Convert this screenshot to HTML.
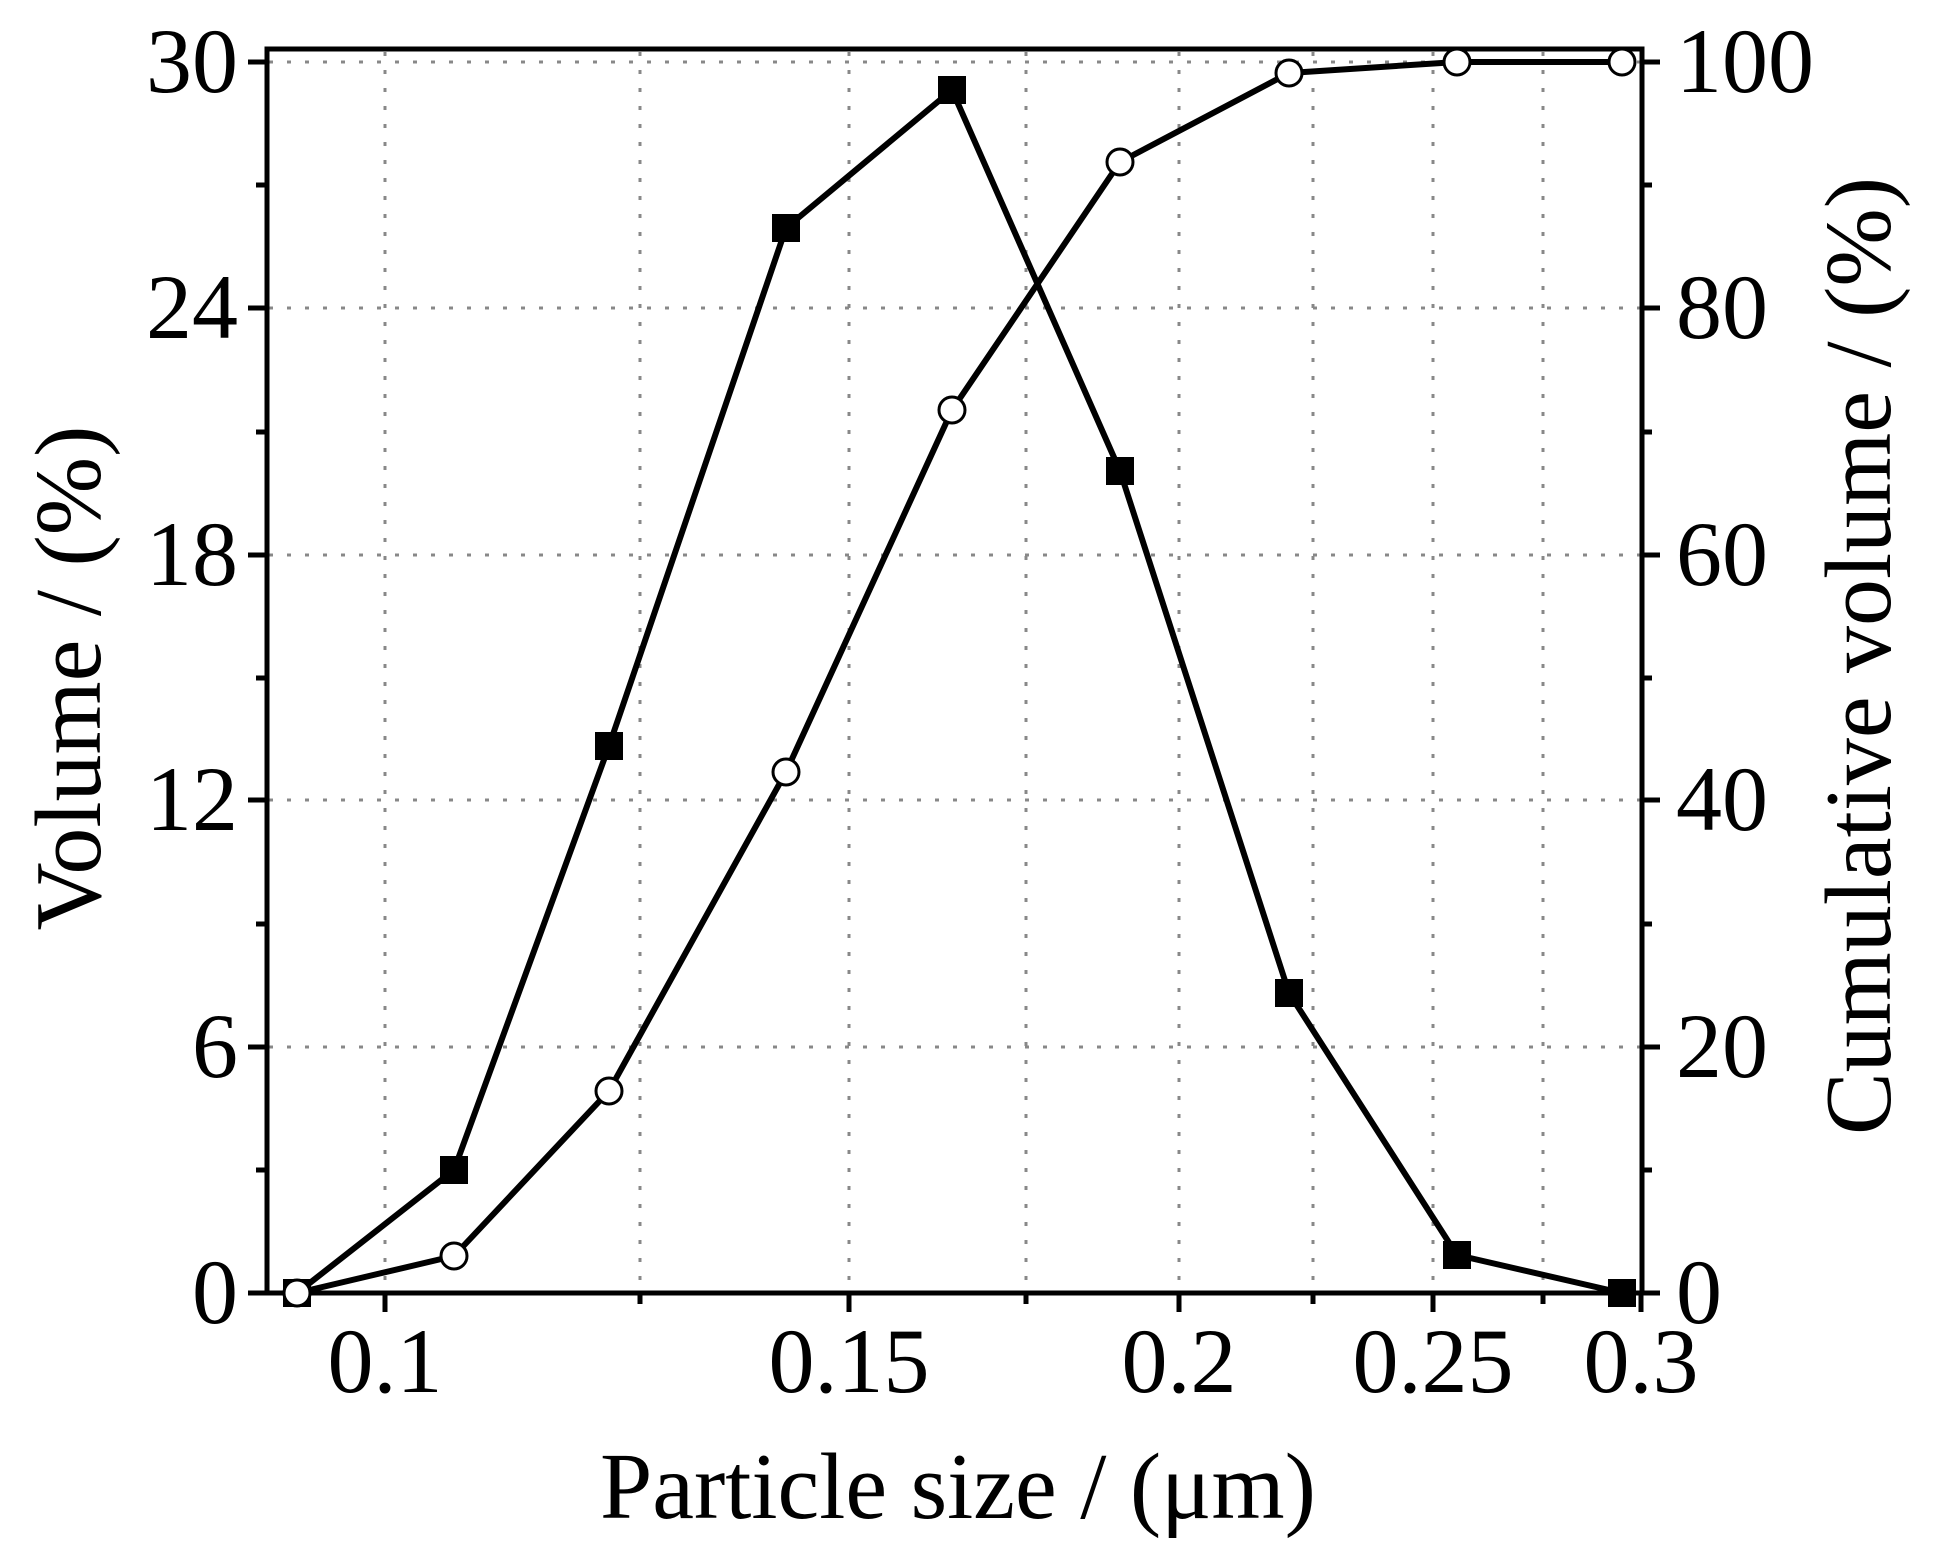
<!DOCTYPE html>
<html><head><meta charset="utf-8"><style>
html,body{margin:0;padding:0;background:#fff;}
svg{display:block;}
text{font-family:"Liberation Serif",serif;fill:#000;}
</style></head><body>
<svg width="1937" height="1547" viewBox="0 0 1937 1547" xmlns="http://www.w3.org/2000/svg">
<rect width="1937" height="1547" fill="#fff"/>
<g stroke="#888" stroke-width="3" stroke-dasharray="4 14" fill="none">
<line x1="385" y1="52" x2="385" y2="1291"/>
<line x1="640" y1="52" x2="640" y2="1291"/>
<line x1="849" y1="52" x2="849" y2="1291"/>
<line x1="1026" y1="52" x2="1026" y2="1291"/>
<line x1="1179" y1="52" x2="1179" y2="1291"/>
<line x1="1313" y1="52" x2="1313" y2="1291"/>
<line x1="1433" y1="52" x2="1433" y2="1291"/>
<line x1="1543" y1="52" x2="1543" y2="1291"/>
<line x1="269" y1="62" x2="1640" y2="62"/>
<line x1="269" y1="308" x2="1640" y2="308"/>
<line x1="269" y1="555" x2="1640" y2="555"/>
<line x1="269" y1="800" x2="1640" y2="800"/>
<line x1="269" y1="1047" x2="1640" y2="1047"/>
</g>
<g stroke="#000" stroke-width="5" fill="none">
<rect x="267" y="49" width="1375" height="1244"/>
<path d="M248 62H267M248 308H267M248 555H267M248 800H267M248 1047H267M248 1293H267"/>
<path d="M256 185H267M256 432H267M256 678H267M256 924H267M256 1170H267"/>
<path d="M1642 62H1660M1642 308H1660M1642 555H1660M1642 800H1660M1642 1047H1660M1642 1293H1660"/>
<path d="M1642 185H1652M1642 432H1652M1642 678H1652M1642 924H1652M1642 1170H1652"/>
<path d="M385 1293V1312M849 1293V1312M1179 1293V1312M1433 1293V1312M1641 1293V1312"/>
<path d="M640 1293V1304M1026 1293V1304M1313 1293V1304M1543 1293V1304"/>
</g>
<g stroke="#000" stroke-width="6" fill="none" stroke-linejoin="round">
<polyline points="297,1293 454,1170 609,746 786,228 952,90 1120,471 1289,993 1457,1255 1622,1293"/>
<polyline points="297,1293 454,1256 609,1091 786,772 952,410 1120,162 1289,73 1457,62 1622,62"/>
</g>
<g fill="#000">
<rect x="283" y="1279" width="28" height="28"/>
<rect x="440" y="1156" width="28" height="28"/>
<rect x="595" y="732" width="28" height="28"/>
<rect x="772" y="214" width="28" height="28"/>
<rect x="938" y="76" width="28" height="28"/>
<rect x="1106" y="457" width="28" height="28"/>
<rect x="1275" y="979" width="28" height="28"/>
<rect x="1443" y="1241" width="28" height="28"/>
<rect x="1608" y="1279" width="28" height="28"/>
</g>
<g fill="#fff" stroke="#000" stroke-width="3">
<circle cx="297" cy="1293" r="13"/>
<circle cx="454" cy="1256" r="13"/>
<circle cx="609" cy="1091" r="13"/>
<circle cx="786" cy="772" r="13"/>
<circle cx="952" cy="410" r="13"/>
<circle cx="1120" cy="162" r="13"/>
<circle cx="1289" cy="73" r="13"/>
<circle cx="1457" cy="62" r="13"/>
<circle cx="1622" cy="62" r="13"/>
</g>
<g font-size="92" text-anchor="end">
<text x="238" y="92">30</text>
<text x="238" y="338">24</text>
<text x="238" y="585">18</text>
<text x="238" y="830">12</text>
<text x="238" y="1077">6</text>
<text x="238" y="1323">0</text>
</g>
<g font-size="92" text-anchor="start">
<text x="1676" y="92">100</text>
<text x="1676" y="338">80</text>
<text x="1676" y="585">60</text>
<text x="1676" y="830">40</text>
<text x="1676" y="1077">20</text>
<text x="1676" y="1323">0</text>
</g>
<g font-size="92" text-anchor="middle">
<text x="385" y="1392">0.1</text>
<text x="849" y="1392">0.15</text>
<text x="1179" y="1392">0.2</text>
<text x="1433" y="1392">0.25</text>
<text x="1641" y="1392">0.3</text>
<text x="958" y="1518" font-size="94">Particle size / (μm)</text>
<text transform="translate(100,678) rotate(-90)" font-size="94">Volume / (%)</text>
<text transform="translate(1890,656) rotate(-90)" font-size="94">Cumulative volume / (%)</text>
</g>
</svg>
</body></html>
